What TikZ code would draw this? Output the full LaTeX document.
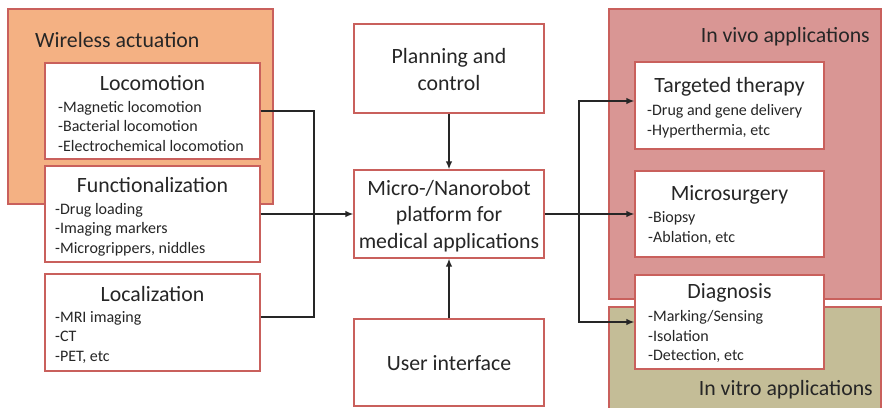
\documentclass[tikz,border=0pt]{standalone}
\usepackage{fontspec}
\setmainfont{Carlito}
\usetikzlibrary{arrows.meta}
\definecolor{peach}{HTML}{F4B183}
\definecolor{rose}{HTML}{D99694}
\definecolor{tan}{HTML}{C4BD97}
\definecolor{edgered}{HTML}{C9605C}
\definecolor{ink}{HTML}{262626}
\tikzset{
  box/.style={draw=edgered, line width=1.3pt, fill=white, rectangle, inner sep=0pt},
  group/.style={draw=edgered, line width=1.3pt},
  title/.style={inner sep=0pt, text=ink, font=\fontsize{21.8}{25}\selectfont},
  items/.style={inner sep=0pt, text=ink, align=left, anchor=north west,
                font=\fontsize{16}{19.5}\selectfont},
  centertext/.style={inner sep=0pt, text=ink, align=center,
                font=\fontsize{21.8}{26.5}\selectfont},
  link/.style={draw=ink, line width=1.4pt},
  arrow/.style={link, -{Latex[length=8pt,width=6.5pt]}},
}
\begin{document}
\begin{tikzpicture}[x=1pt,y=-1pt]
\clip (0,0) rectangle (883,407);
\fill[white] (0,0) rectangle (883,407);

% group backgrounds
\draw[group, fill=peach] (8,9) rectangle (273,204);
\draw[group, fill=rose] (609,9) rectangle (881,299);
\draw[group, fill=tan] (609,307) rectangle (881,412);
\node[title, anchor=west] (wa) at (35,40) {Wireless actuation};
\node[title, anchor=east] (iv) at (870,37) {In vivo applications};
\node[title, anchor=east] (it) at (873,390) {In vitro applications};

% left column
\node[box, minimum width=215pt, minimum height=96pt] (loc) at (152.5,111) {};
\node[title] (loct) at (152.5,83) {Locomotion};
\node[items] (loci) at (58,101) {-Magnetic locomotion\\-Bacterial locomotion\\-Electrochemical locomotion};

\node[box, minimum width=215pt, minimum height=96pt] (fun) at (152.5,214) {};
\node[title] (funt) at (152.5,185) {Functionalization};
\node[items] (funi) at (55,203) {-Drug loading\\-Imaging markers\\-Microgrippers, niddles};

\node[box, minimum width=215pt, minimum height=97pt] (lcz) at (152.5,322.5) {};
\node[title] (lczt) at (152.5,294) {Localization};
\node[items] (lczi) at (55,311) {-MRI imaging\\-CT\\-PET, etc};

% centre column
\node[box, minimum width=190pt, minimum height=89pt] (plan) at (449,68.5) {};
\node[centertext] (plant) at (449,69.5) {Planning and\\control};

\node[box, minimum width=190pt, minimum height=88pt] (main) at (449,214) {};
\node[centertext] (maint) at (449,216) {Micro-/Nanorobot\\platform for\\medical applications};

\node[box, minimum width=190pt, minimum height=87pt] (ui) at (449,362.5) {};
\node[centertext] (uit) at (449,363) {User interface};

% right column
\node[box, minimum width=189pt, minimum height=87pt] (tt) at (729.5,105.5) {};
\node[title] (ttt) at (729.5,87) {Targeted therapy};
\node[items] (tti) at (647,104.5) {-Drug and gene delivery\\-Hyperthermia, etc};

\node[box, minimum width=189pt, minimum height=86pt] (ms) at (729.5,214) {};
\node[title] (mst) at (729.5,195) {Microsurgery};
\node[items] (msi) at (648,211.5) {-Biopsy\\-Ablation, etc};

\node[box, minimum width=189pt, minimum height=94pt] (dg) at (729.5,322) {};
\node[title] (dgt) at (729.5,293) {Diagnosis};
\node[items] (dgi) at (648,310.5) {-Marking/Sensing\\-Isolation\\-Detection, etc};

% connectors
\coordinate (jl) at (314,214);
\coordinate (jr) at (579,214);
\draw[link] (loc.east) -| (jl);
\draw[link] ([yshift=5.5pt]lcz.east) -| (jl);
\draw[arrow] (fun.east) -- (main.west);
\draw[arrow] (plan.south) -- (main.north);
\draw[arrow] (ui.north) -- (main.south);
\draw[link] (main.east) -- (jr);
\draw[arrow] (jr) |- ([yshift=4.5pt]tt.west);
\draw[arrow] (jr) -- (ms.west);
\draw[arrow] (jr) |- (dg.west);
\end{tikzpicture}
\end{document}
